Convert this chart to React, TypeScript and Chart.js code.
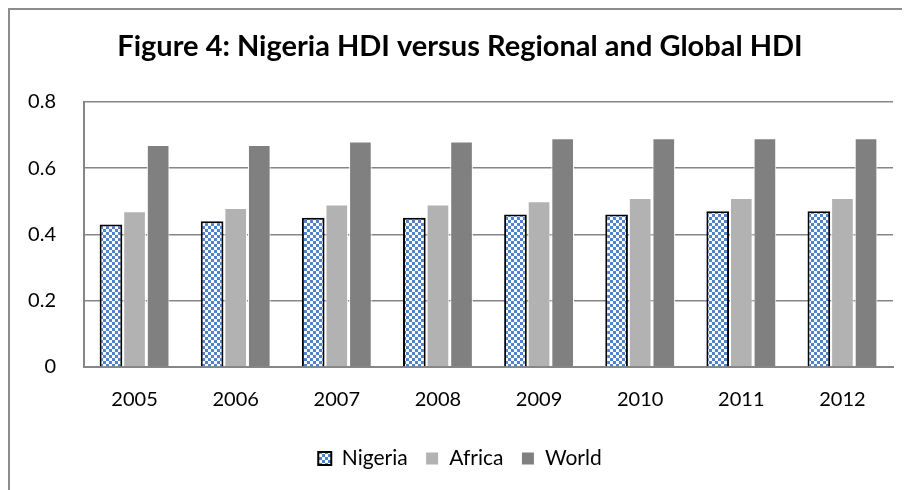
import React, { useEffect, useRef } from "react";
import { Chart, registerables } from "chart.js";

Chart.register(...registerables);

const years = ["2005", "2006", "2007", "2008", "2009", "2010", "2011", "2012"];
const nigeria = [0.43, 0.44, 0.45, 0.45, 0.46, 0.46, 0.47, 0.47];
const africa = [0.47, 0.48, 0.49, 0.49, 0.5, 0.51, 0.51, 0.51];
const world = [0.67, 0.67, 0.68, 0.68, 0.69, 0.69, 0.69, 0.69];
const titleText = "Figure 4: Nigeria HDI versus Regional and Global HDI";

function makePattern(): CanvasPattern | string {
  const c = document.createElement("canvas");
  c.width = 6;
  c.height = 6;
  const g = c.getContext("2d");
  if (!g) return "#5b8fd6";
  g.fillStyle = "#ffffff";
  g.fillRect(0, 0, 6, 6);
  g.fillStyle = "#4f83cf";
  g.fillRect(0, 0, 3, 3);
  g.fillRect(3, 3, 3, 3);
  const p = g.createPattern(c, "repeat");
  return p || "#5b8fd6";
}

export default function App() {
  const ref = useRef<HTMLCanvasElement | null>(null);
  useEffect(() => {
    if (!ref.current) return;
    const pat = makePattern();
    const font = "Lato, 'Open Sans', sans-serif";
    const chart = new Chart(ref.current, {
      type: "bar",
      data: {
        labels: years,
        datasets: [
          {
            label: "Nigeria",
            data: nigeria,
            backgroundColor: pat as any,
            borderColor: "#000000",
            borderWidth: 2,
          },
          {
            label: "Africa",
            data: africa,
            backgroundColor: "#b2b2b2",
            borderColor: "#ffffff",
            borderWidth: 1,
          },
          {
            label: "World",
            data: world,
            backgroundColor: "#808080",
            borderColor: "#ffffff",
            borderWidth: 1,
          },
        ],
      },
      options: {
        animation: false,
        responsive: false,
        maintainAspectRatio: false,
        layout: { padding: { left: 0, right: 0, top: 0, bottom: 11 } },
        datasets: {
          bar: { categoryPercentage: 0.7, barPercentage: 0.96 },
        },
        plugins: {
          tooltip: { enabled: false },
          title: {
            display: true,
            text: titleText,
            color: "#000000",
            font: { family: font, size: 29, weight: "bold" },
            padding: { top: 19, bottom: 38 },
          },
          legend: {
            position: "bottom",
            labels: {
              color: "#000000",
              font: { family: font, size: 21 },
              boxWidth: 13,
              boxHeight: 13,
              padding: 18,
            },
          },
        },
        scales: {
          x: {
            grid: { display: false, drawTicks: false },
            border: { display: true, color: "#868686", width: 2 },
            afterFit: (s: any) => {
              s.height += -3;
            },
            ticks: {
              color: "#000000",
              font: { family: font, size: 20 },
              padding: 21,
            },
          },
          y: {
            min: 0,
            max: 0.8,
            afterFit: (s: any) => {
              s.width = 74;
            },
            grid: { color: "#868686", lineWidth: 1.5, drawTicks: false },
            border: { display: true, color: "#868686", width: 2 },
            ticks: {
              stepSize: 0.2,
              color: "#000000",
              font: { family: font, size: 20 },
              padding: 28,
              callback: (v: any) => {
                const n = Number(v);
                return n === 0 ? "0" : n.toFixed(1);
              },
            },
          },
          yRight: {
            position: "right",
            display: true,
            min: 0,
            max: 0.8,
            grid: { display: false, drawTicks: false },
            border: { display: false },
            ticks: { display: false },
            afterFit: (s: any) => {
              s.width = 17;
            },
          },
        },
      },
    });
    return () => chart.destroy();
  }, []);
  return (
    <div
      style={{
        width: 902,
        height: 482,
        borderTop: "2px solid #8c8c8c",
        borderLeft: "2px solid #8c8c8c",
        boxSizing: "border-box",
        background: "#ffffff",
        overflow: "hidden",
      }}
    >
      <canvas ref={ref} width={900} height={480} style={{ display: "block", width: 900, height: 480 }} />
    </div>
  );
}
